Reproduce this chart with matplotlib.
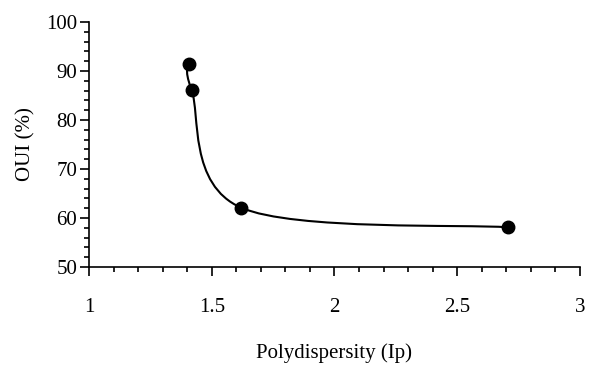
import matplotlib
matplotlib.use("Agg")
import matplotlib.pyplot as plt
import numpy as np
from matplotlib.path import Path
from matplotlib.patches import PathPatch

plt.rcParams['font.family'] = ['Liberation Serif', 'DejaVu Serif']

# data
ip = [1.407, 1.418, 1.62, 2.707]
oui = [91.4, 86.1, 62.1, 58.1]


def smooth_path(xs, ys):
    # catmull-rom style bezier through the points (like a spreadsheet "smooth line")
    p = np.column_stack([xs, ys])
    n = len(p)
    verts = [p[0]]
    codes = [Path.MOVETO]
    for i in range(n - 1):
        prev = p[i - 1] if i > 0 else p[i]
        nxt = p[i + 2] if i + 2 < n else p[i + 1]
        c1 = p[i] + (p[i + 1] - prev) / 6
        c2 = p[i + 1] - (nxt - p[i]) / 6
        verts += [c1, c2, p[i + 1]]
        codes += [Path.CURVE4] * 3
    return Path(verts, codes)


fig = plt.figure(figsize=(6.13, 3.65), dpi=100)
ax = fig.add_axes([89 / 613, 1 - 267 / 365, (580 - 89) / 613, (267 - 22) / 365])

ax.add_patch(PathPatch(smooth_path(ip, oui), fill=False, edgecolor='black', lw=1.5))
ax.plot(ip, oui, 'o', color='black', ms=9, zorder=3)

ax.set_xlim(1, 3)
ax.set_ylim(50, 100)
ax.set_xticks([1, 1.5, 2, 2.5, 3])
ax.set_xticklabels(['1', '1.5', '2', '2.5', '3'])
ax.set_xticks(np.arange(1, 3.01, 0.1), minor=True)
ax.set_yticks([50, 60, 70, 80, 90, 100])
ax.set_yticks(np.arange(50, 100.1, 2), minor=True)

ax.spines['top'].set_visible(False)
ax.spines['right'].set_visible(False)
ax.spines['left'].set_linewidth(1.2)
ax.spines['bottom'].set_linewidth(1.2)
ax.tick_params(which='major', direction='out', length=6.5, width=1.2, labelsize=15)
ax.tick_params(which='minor', direction='out', length=3.5, width=1.2)
ax.tick_params(axis='x', which='major', pad=16)
ax.tick_params(axis='y', which='major', pad=2)

ax.set_xlabel('Polydispersity (Ip)', fontsize=15)
ax.xaxis.set_label_coords(0.5, -0.31)
ax.set_ylabel('OUI (%)', fontsize=15)
ax.yaxis.set_label_coords(-0.11, 0.5)

fig.savefig('out.png', dpi=100)
